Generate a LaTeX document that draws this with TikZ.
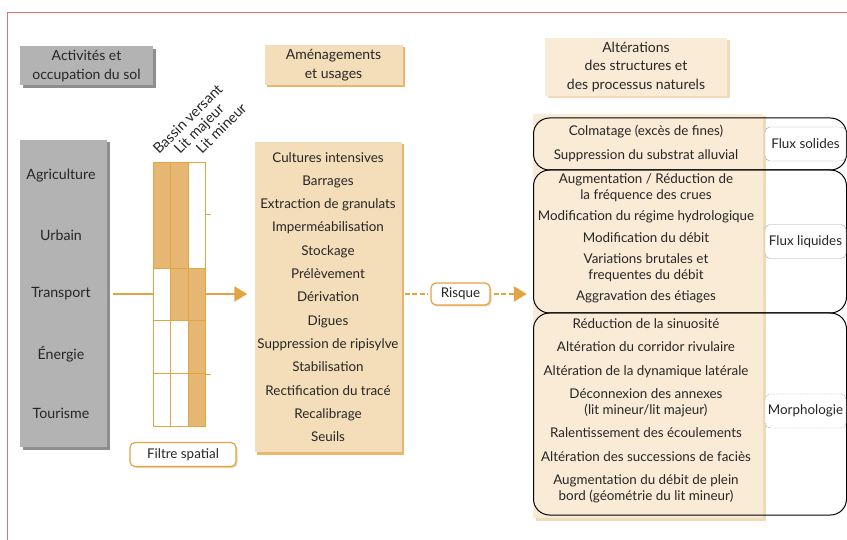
\documentclass[tikz,border=0pt]{standalone}
\usepackage{fontspec}
\setmainfont{Lato}
\usetikzlibrary{positioning,shadows,arrows.meta,calc}

\definecolor{gris}{HTML}{B3B3B3}
\definecolor{grisfonce}{HTML}{8E8E8E}
\definecolor{sable}{HTML}{F4DDB9}
\definecolor{sableclair}{HTML}{FAEBD6}
\definecolor{ombre}{HTML}{E8B66F}
\definecolor{orangeligne}{HTML}{E2A444}
\definecolor{orangecase}{HTML}{E5B772}
\definecolor{cadrerouge}{HTML}{E86E6E}

\begin{document}
\begin{tikzpicture}[x=1pt, y=-1pt,
    every node/.style={font=\fontsize{13.4}{15.5}\selectfont, text=black!85},
    titre/.style={align=center, inner sep=0pt, font=\fontsize{14}{18.5}\selectfont},
    grisbox/.style={titre, fill=gris, drop shadow={shadow xshift=2.5pt, shadow yshift=-2.5pt, fill=grisfonce, opacity=1}},
    sablebox/.style={titre, fill=sable, drop shadow={shadow xshift=2.5pt, shadow yshift=-2.5pt, fill=ombre, opacity=1}},
    clairbox/.style={titre, fill=sableclair, drop shadow={shadow xshift=2.5pt, shadow yshift=-2.5pt, fill=ombre!50, opacity=1}},
    activite/.style={font=\fontsize{14.2}{16}\selectfont},
    groupe/.style={draw=black, line width=1pt, rounded corners=16pt, inner sep=0pt},
    etiquette/.style={draw=gray!70, fill=white, rounded corners=5pt, inner sep=0pt, minimum width=81, minimum height=34},
    pastille/.style={draw=orangeligne, line width=1.2pt, fill=white, rounded corners=5pt, inner sep=0pt, drop shadow={shadow xshift=1.5pt, shadow yshift=-1.5pt, fill=ombre!60, opacity=1}},
    rotlab/.style={rotate=45, anchor=base west, inner sep=0pt, font=\fontsize{14.5}{16}\selectfont},
    grille/.style={draw=orangeligne, line width=0.9pt},
    case/.style={fill=orangecase},
    flow/.style={draw=orangeligne, line width=2.2pt},
    dflow/.style={flow, dash pattern=on 5pt off 2.5pt, line width=2.6pt},
    tete/.style={-{Triangle[length=13pt, width=15pt]}}
]
\useasboundingbox (0,0) rectangle (847,540);

% cadre
\draw[cadrerouge, line width=1pt] (7,540) -- (7,13) -- (847,13);

% en-tetes
\node[grisbox, minimum width=133, minimum height=39] (hactiv) at (86.5,66) {Activités et\\occupation du sol};
\node[sablebox, minimum width=138, minimum height=40] (hamen) at (333.5,65) {Aménagements\\et usages};
\node[clairbox, minimum width=182, minimum height=58] (halter) at (636,67) {Altérations\\des structures et\\des processus naturels};

% activites
\node[grisbox, minimum width=87, minimum height=307] (activ) at (63.5,293.5) {};
\node[activite] (agri) at (61,176) {Agriculture};
\node[activite] (urb) at (61,235) {Urbain};
\node[activite] (trans) at (61,294) {Transport};
\node[activite] (ener) at (61,354) {Énergie};
\node[activite] (tour) at (61,413) {Tourisme};

% filtre spatial
\fill[case] (153,162) rectangle (188,268);
\fill[case] (170.5,268) rectangle (188,320);
\fill[case] (188,268) rectangle (205,426);
\draw[grille] (170.5,162) -- (170.5,426) (188,162) -- (188,426);
\draw[grille] (153,268) -- (205,268) (153,320) -- (205,320) (153,373) -- (205,373);
\node[grille, inner sep=0pt, minimum width=52, minimum height=264] (filtre) at (179,294) {};
\draw[grille] (filtre.east |- 0,214) -- ++(6,0);
\draw[grille] (filtre.east |- 0,374) -- ++(6,0);
\node[rotlab] (bv) at (159,155) {Bassin versant};
\node[rotlab] (lmaj) at (180,155) {Lit majeur};
\node[rotlab] (lmin) at (202,155) {Lit mineur};
\node[pastille, minimum width=106, minimum height=24] (fsp) at (183,454.5) {Filtre spatial};

% amenagements
\node[sablebox, minimum width=147, minimum height=310, font=\fontsize{13.4}{23.3}\selectfont] (amen) at (328,297) {Cultures intensives\\Barrages\\Extraction de granulats\\Imperméabilisation\\Stockage\\Prélèvement\\Dérivation\\Digues\\Suppression de ripisylve\\Stabilisation\\Rectification du tracé\\Recalibrage\\Seuils};

% alterations
\node[clairbox, minimum width=230, minimum height=404] (alter) at (648,316) {};
\node[groupe, minimum width=313, minimum height=52] (solides) at (690,144) {};
\node[groupe, minimum width=313, minimum height=143] (liquides) at (690,241.5) {};
\node[groupe, minimum width=313, minimum height=202] (morpho) at (690,414) {};
\node[align=center] (tsol) at (646,143.5) {Colmatage (excès de fines)\\[8pt]Suppression du substrat alluvial};
\node[align=center] (tliq) at (646,238.5) {Augmentation / Réduction de\\la fréquence des crues\\[6pt]Modification du régime hydrologique\\[6pt]Modification du débit\\[6pt]Variations brutales et\\frequentes du débit\\[6pt]Aggravation des étiages};
\node[align=center] (tmor) at (646,410.5) {Réduction de la sinuosité\\[8pt]Altération du corridor rivulaire\\[8pt]Altération de la dynamique latérale\\[8pt]Déconnexion des annexes\\(lit mineur/lit majeur)\\[8pt]Ralentissement des écoulements\\[8pt]Altération des successions de faciès\\[8pt]Augmentation du débit de plein\\bord (géométrie du lit mineur)};

% etiquettes laterales
\node[etiquette] (fsol) at (805.5,144) {Flux solides};
\node[etiquette] (fliq) at (805.5,241.5) {Flux liquides};
\node[etiquette, dashed, dash pattern=on 2pt off 1pt] (fmor) at (805.5,411) {Morphologie};

% fleches
\draw[flow, shorten <=6pt] (activ.east |- trans) -- (filtre.west |- trans);
\draw[flow, tete, shorten >=7pt] (filtre.east |- trans) -- (amen.west |- trans);
\node[pastille, minimum width=59, minimum height=22] (risque) at (460.5,294) {Risque};
\draw[dflow, shorten <=3pt, shorten >=3pt] (amen.east |- risque) -- (risque.west);
\draw[dflow, tete, shorten <=3pt, shorten >=6pt] (risque.east) -- (alter.west |- risque);

\end{tikzpicture}
\end{document}
